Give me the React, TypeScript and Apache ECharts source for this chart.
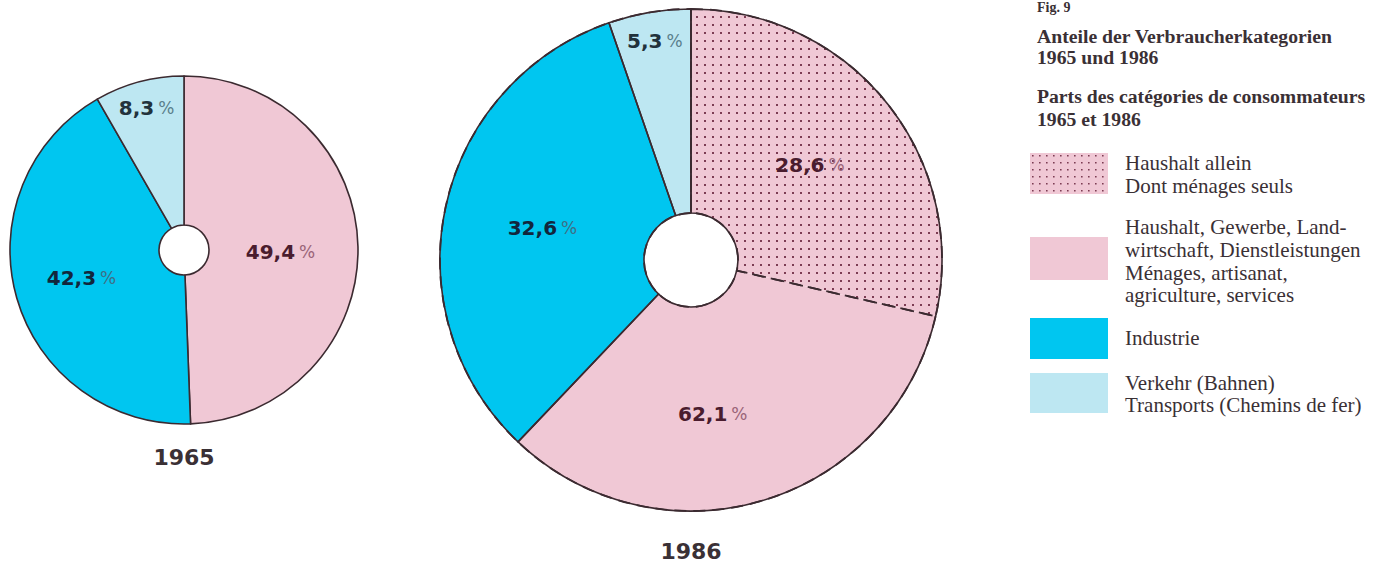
import React, { useEffect, useRef } from "react";
import * as echarts from "echarts";

// ---- data ----
const legendLabels = [
  ["Haushalt allein", "Dont ménages seuls"],
  ["Haushalt, Gewerbe, Land-", "wirtschaft, Dienstleistungen", "Ménages, artisanat,", "agriculture, services"],
  ["Industrie"],
  ["Verkehr (Bahnen)", "Transports (Chemins de fer)"],
];
const categories = ["Haushalt, Gewerbe, Landwirtschaft, Dienstleistungen", "Industrie", "Verkehr (Bahnen)"];
const values1965 = [49.4, 42.3, 8.3];
const values1986 = [62.1, 32.6, 5.3];
const haushaltAllein1986 = 28.6;
const years = ["1965", "1986"];
const figLabel = "Fig. 9";
const titleLines = [
  "Anteile der Verbraucherkategorien",
  "1965 und 1986",
  "Parts des catégories de consommateurs",
  "1965 et 1986",
];

// ---- styles ----
const PINK = "#f0c8d5";
const CYAN = "#00c6f0";
const LIGHTCYAN = "#bde7f2";
const EDGE = "#3b2a30";
const DOTS = "rgba(95,25,50,0.8)";
const fillColors = [PINK, CYAN, LIGHTCYAN];
const numColors = ["#4a1c2e", "#12263c", "#22323c"];
const pctColors = ["#9a6478", "#3f6f86", "#5a7f8c"];
const dotDecal = {
  symbol: "rect",
  symbolSize: 1,
  color: DOTS,
  dashArrayX: [1.6, 5.4],
  dashArrayY: [1.6, 5.4],
  rotation: 0,
};

const fmt = (v: number) => v.toFixed(1).replace(".", ",");

function labelFor(text: string, ci: number, offset?: number[]) {
  return {
    show: true,
    position: "inside",
    offset: offset || [0, 0],
    formatter: `{n|${text}}{p|%}`,
    rich: {
      n: { fontFamily: "DejaVu Sans", fontWeight: "bold", fontSize: 20, color: numColors[ci] },
      p: { fontFamily: "DejaVu Sans", fontWeight: "normal", fontSize: 17, color: pctColors[ci], padding: [0, 0, 0, 4] },
    },
  };
}

const baseSeries = {
  type: "pie",
  silent: true,
  clockwise: true,
  startAngle: 90,
  avoidLabelOverlap: false,
  labelLine: { show: false },
  emphasis: { disabled: true },
};

export default function App() {
  const ref = useRef<HTMLDivElement>(null);
  useEffect(() => {
    if (!ref.current) return;
    const chart = echarts.init(ref.current, null, { renderer: "svg" });

    const c1 = [184, 250];
    const r1 = [25, 174];
    const c2 = [691, 260];
    const r2 = [47, 251];

    const labelOffsets1965 = [[-6, 4], [-4, 0], [-11, -43]];

    const s1965 = {
      ...baseSeries,
      center: c1,
      radius: r1,
      itemStyle: { borderColor: EDGE, borderWidth: 1.6 },
      data: values1965.map((v, i) => ({
        name: categories[i],
        value: v,
        itemStyle: { color: fillColors[i] },
        label: labelFor(fmt(v), i, labelOffsets1965[i]),
      })),
    };

    const rest1986 = values1986[0] - haushaltAllein1986;
    const s1986fill = {
      ...baseSeries,
      center: c2,
      radius: r2,
      itemStyle: { borderWidth: 0 },
      data: [
        {
          name: "Haushalt allein",
          value: haushaltAllein1986,
          itemStyle: { color: PINK, decal: dotDecal },
          label: labelFor(fmt(haushaltAllein1986), 0, [0, 0]),
        },
        {
          name: categories[0],
          value: rest1986,
          itemStyle: { color: PINK },
          label: labelFor(fmt(values1986[0]), 0, [-22, 8]),
        },
        {
          name: categories[1],
          value: values1986[1],
          itemStyle: { color: CYAN },
          label: labelFor(fmt(values1986[1]), 1, [0, 0]),
        },
        {
          name: categories[2],
          value: values1986[2],
          itemStyle: { color: LIGHTCYAN },
          label: labelFor(fmt(values1986[2]), 2, [-11, -69]),
        },
      ],
    };
    const s1986outline = {
      ...baseSeries,
      center: c2,
      radius: r2,
      label: { show: false },
      itemStyle: { color: "rgba(0,0,0,0)", borderColor: EDGE, borderWidth: 1.6 },
      data: values1986.map((v, i) => ({ name: categories[i], value: v })),
    };
    const s1986dash = {
      ...baseSeries,
      center: c2,
      radius: r2,
      label: { show: false },
      itemStyle: {
        color: "rgba(0,0,0,0)",
        borderColor: EDGE,
        borderWidth: 1.8,
        borderType: [12, 7],
      },
      data: [
        { name: "Haushalt allein", value: haushaltAllein1986 },
        { name: "other", value: 100 - haushaltAllein1986 },
      ],
    };

    const serif = "'Liberation Serif', 'DejaVu Serif', serif";
    const txtColor = "#3a3035";
    const graphics: any[] = [];
    // year captions
    graphics.push({
      type: "text",
      x: c1[0],
      y: 457,
      style: { text: years[0], fontFamily: "DejaVu Sans", fontWeight: "bold", fontSize: 22, fill: txtColor, align: "center", verticalAlign: "middle" },
    });
    graphics.push({
      type: "text",
      x: c2[0],
      y: 551,
      style: { text: years[1], fontFamily: "DejaVu Sans", fontWeight: "bold", fontSize: 22, fill: txtColor, align: "center", verticalAlign: "middle" },
    });
    // title panel
    graphics.push({
      type: "text",
      x: 1037,
      y: 0,
      style: { text: figLabel, fontFamily: serif, fontWeight: "bold", fontSize: 14, fill: txtColor, align: "left", verticalAlign: "top" },
    });
    const titleBaselines = [42, 63, 102, 125];
    titleLines.forEach((t, i) => {
      graphics.push({
        type: "text",
        x: 1037,
        y: titleBaselines[i] + 4,
        style: { text: t, fontFamily: serif, fontWeight: "bold", fontSize: 19.7, fill: txtColor, align: "left", verticalAlign: "bottom" },
      });
    });
    // legend
    const boxes = [
      { y: 153, h: 41, fill: PINK, decal: true },
      { y: 237, h: 43, fill: PINK, decal: false },
      { y: 318, h: 41, fill: CYAN, decal: false },
      { y: 373, h: 40, fill: LIGHTCYAN, decal: false },
    ];
    const textBaselines = [
      [168, 191],
      [232, 255, 278, 300],
      [343],
      [388, 410],
    ];
    boxes.forEach((b, i) => {
      graphics.push({
        type: "rect",
        shape: { x: 1030, y: b.y, width: 78, height: b.h },
        style: { fill: b.fill },
      });
      if (b.decal) {
        const dots: any[] = [];
        for (let yy = b.y + 2; yy < b.y + b.h - 1; yy += 7) {
          for (let xx = 1032; xx < 1030 + 78 - 1; xx += 7) {
            dots.push({ type: "rect", shape: { x: xx, y: yy, width: 1.6, height: 1.6 }, style: { fill: DOTS } });
          }
        }
        graphics.push({ type: "group", children: dots });
      }
      legendLabels[i].forEach((t, j) => {
        graphics.push({
          type: "text",
          x: 1125,
          y: textBaselines[i][j] + 5,
          style: { text: t, fontFamily: serif, fontSize: 21, fill: txtColor, align: "left", verticalAlign: "bottom" },
        });
      });
    });

    chart.setOption({
      animation: false,
      backgroundColor: "#ffffff",
      series: [s1965, s1986fill, s1986outline, s1986dash],
      graphic: graphics,
    });
    return () => chart.dispose();
  }, []);
  return <div ref={ref} style={{ position: "absolute", left: 0, top: 0, width: 1381, height: 565 }} />;
}
